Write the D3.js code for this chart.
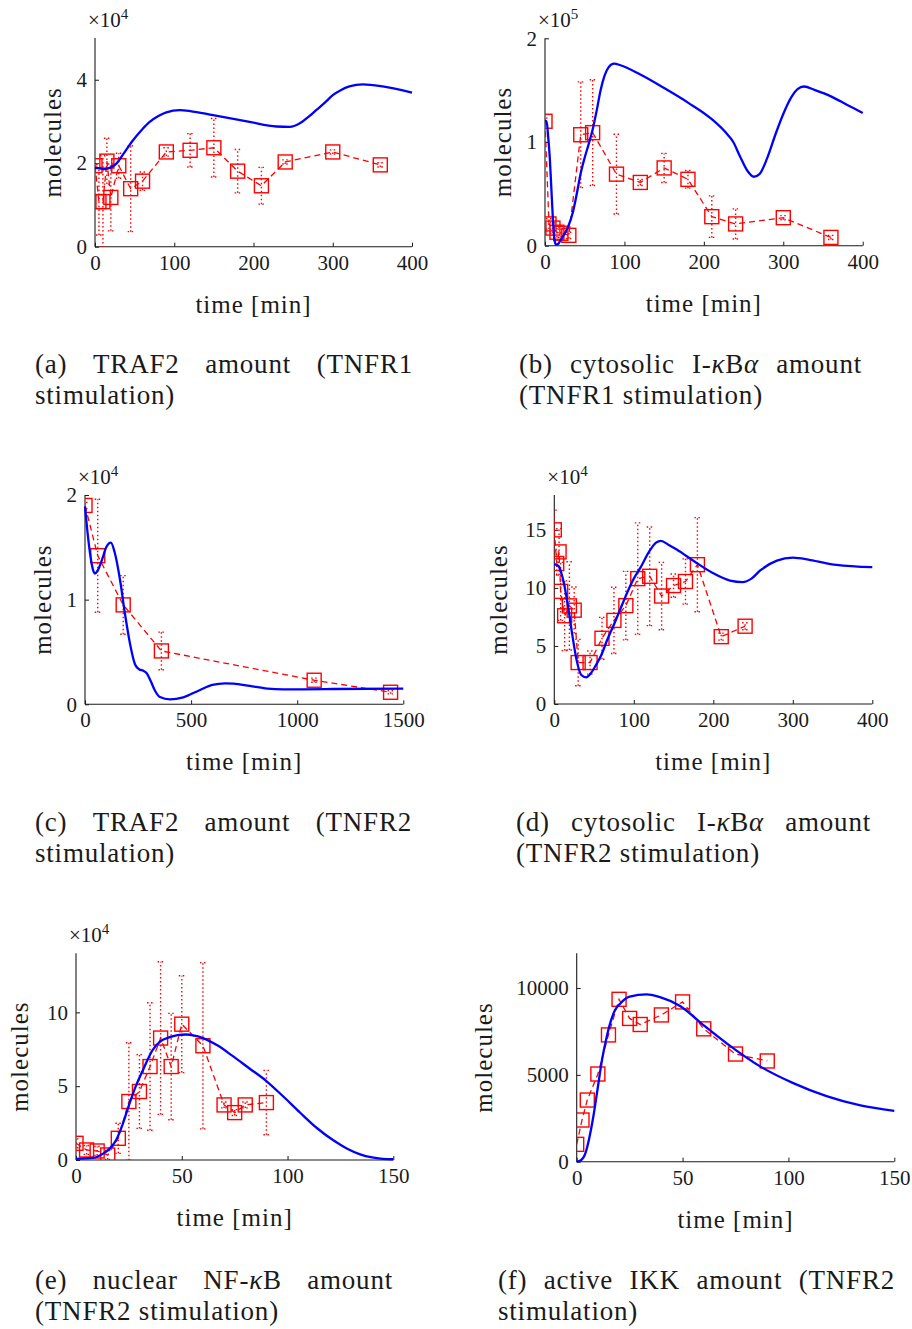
<!DOCTYPE html>
<html><head><meta charset="utf-8">
<script src="https://cdn.jsdelivr.net/npm/d3@7"></script>
<style>
body{margin:0;background:#fff}
svg{display:block}
text{font-family:"Liberation Serif","Times New Roman",serif;fill:#1a1a1a}
</style></head><body>
<svg id="fig" width="912" height="1329"></svg>
<script>
// ---------- (a) TRAF2, TNFR1 stimulation ----------
const trafR1Time = [0,5,10,15,20,30,45,60,90,120,150,180,210,240,300,360];
const trafR1Mean = [19400,10800,10800,20500,11800,19400,13900,15700,22700,23100,23700,18100,14600,20300,22700,19600];
const trafR1Sd   = [300,8000,11000,5500,8000,3000,10300,2200,1000,4000,7000,5200,4400,500,500,500];
const trafR1SimT = [0,5,12,20,27,35,48,60,69,80,90,107,120,149,195,229,246,258,270,279,290,300,310,321,338,363,400];
const trafR1SimV = [18900,18800,18600,19000,19900,22000,25500,28200,29900,31300,32200,32700,32500,31500,29900,28800,28700,29500,31200,32700,34500,36300,37500,38400,38900,38400,36900];

// ---------- (b) cytosolic IkBa, TNFR1 stimulation ----------
const ikbR1Time = [0,5,10,15,20,30,45,60,90,120,150,180,210,240,300,360];
const ikbR1Mean = [120000,21000,17000,13000,12000,10000,107000,109000,69000,61000,75000,64000,28000,21000,27000,8000];
const ikbR1Sd   = [3000,5000,5000,5000,4000,3000,51000,51000,38500,3000,14000,8500,20000,14500,2000,2000];
const ikbR1SimT = [0,2,4,6,8,10,12,14,17,20,25,30,35,40,45,50,55,60,65,70,75,80,87,95,120,150,180,210,230,237,245,255,263,270,280,290,300,310,318,326,340,360,380,400];
const ikbR1SimV = [120000,120000,105000,85000,55000,25000,5000,1000,2000,6000,12000,20000,32000,50000,70000,85000,98000,112000,130000,150000,164000,172000,175500,174000,165000,152000,138000,122000,107000,100000,87000,72000,66500,69000,85000,107000,127000,143000,151000,153500,150000,144000,136000,128000];

// ---------- (c) TRAF2, TNFR2 stimulation ----------
const trafR2Time = [0,60,180,360,1080,1440];
const trafR2Mean = [19000,14200,9500,5100,2300,1150];
const trafR2Sd   = [300,5400,2800,1800,200,150];
const trafR2SimT = [0,10,20,30,40,47,60,80,100,122,140,165,188,212,236,255,275,290,310,330,353,400,463,542,600,660,700,777,860,934,1000,1170,1500];
const trafR2SimV = [18900,16800,15000,13600,12700,12500,12800,13800,15000,15450,14500,11900,8700,5800,3800,3350,3200,3000,2200,1300,700,480,670,1370,1850,2000,1980,1750,1500,1430,1430,1460,1500];

// ---------- (d) cytosolic IkBa, TNFR2 stimulation ----------
const ikbR2Time = [0,3,6,8,13,19,25,30,45,60,75,90,105,120,135,150,165,180,210,240];
const ikbR2Mean = [150000,121000,131000,97000,76000,84500,80800,35700,35700,56600,72000,84700,108000,110000,93000,102000,105500,120000,58000,67000];
const ikbR2Sd   = [17000,10000,20000,25000,30000,38000,20000,20000,10000,18000,28500,29500,48000,42500,29000,10000,19500,40500,3000,3000];
const ikbR2SimT = [0,5,10,13,18,23,28,34,40,46,52,59,67,76,85,93,100,108,120,128,134,144,154,175,200,221,237,248,259,280,300,322,355,400];
const ikbR2SimV = [120500,119000,110000,101000,81000,58000,38000,25000,23000,26500,33000,42000,56000,70000,85000,98000,108000,117000,132000,139000,140500,137000,133000,123300,112600,106300,105000,108000,115000,123500,126000,124000,119800,117800];

// ---------- (e) nuclear NF-kB, TNFR2 stimulation ----------
const nfkbTime = [0,5,10,15,20,25,30,35,40,45,50,60,70,75,80,90];
const nfkbMean = [11300,6800,6100,3400,14700,39600,46400,63300,82600,63300,92000,77400,37300,32100,37300,38900];
const nfkbSd   = [3000,3000,3000,3000,10200,39800,25000,43200,51700,36000,32800,56300,2000,2000,2000,21800];
const nfkbSimT = [0,8,13,16,19,22,25,28,32,36,40,44,48,52,56,60,67,74,82,90,98,106,114,122,128,134,140,145,150];
const nfkbSimV = [700,1400,4500,7900,13600,24000,37000,49000,62000,74000,80500,83000,84500,85000,84200,82600,77500,70500,62000,53500,43000,32000,21500,13000,7800,4000,1700,800,500];

// ---------- (f) active IKK, TNFR2 stimulation ----------
const ikkTime = [0,2.5,5,10,15,20,25,30,40,50,60,75,90];
const ikkMean = [1000,2400,3550,5050,7300,9350,8250,7900,8450,9200,7650,6200,5800];
const ikkSimT = [0,2,4,6,8,10,12,14,16,18,20.5,25,33,39,49,60,71,87,102,118,134,150];
const ikkSimV = [0,80,450,1400,2700,4300,5900,7100,8050,8700,9100,9500,9640,9490,8950,7850,6800,5460,4540,3774,3237,2931];

// ---------- axis ticks ----------
const ticks400 = [0,100,200,300,400];
const ticks1500 = [0,500,1000,1500];
const ticks150 = [0,50,100,150];

const panels = [
  {t:trafR1Time, m:trafR1Mean, sd:trafR1Sd, st:trafR1SimT, sv:trafR1SimV,
   xMax:400, xTicks:ticks400, yMax:50000, yTicks:[0,20000,40000], exp:4,
   box:[95,412,38,246.7], yLabX:61,
   cap:["(a) TRAF2 amount (TNFR1","stimulation)"], capX:[35,413], capY:373},
  {t:ikbR1Time, m:ikbR1Mean, sd:ikbR1Sd, st:ikbR1SimT, sv:ikbR1SimV,
   xMax:400, xTicks:ticks400, yMax:200000, yTicks:[0,100000,200000], exp:5,
   box:[545,862.7,38.3,245.7], yLabX:511,
   cap:["(b) cytosolic I-κBα amount","(TNFR1 stimulation)"], capX:[519,862], capY:373},
  {t:trafR2Time, m:trafR2Mean, sd:trafR2Sd, st:trafR2SimT, sv:trafR2SimV,
   xMax:1500, xTicks:ticks1500, yMax:20000, yTicks:[0,10000,20000], exp:4,
   box:[85,403.3,495,704.3], yLabX:51,
   cap:["(c) TRAF2 amount (TNFR2","stimulation)"], capX:[35,412], capY:831},
  {t:ikbR2Time, m:ikbR2Mean, sd:ikbR2Sd, st:ikbR2SimT, sv:ikbR2SimV,
   xMax:400, xTicks:ticks400, yMax:180000, yTicks:[0,50000,100000,150000], exp:4,
   box:[554.3,872.3,495,704], yLabX:507,
   cap:["(d) cytosolic I-κBα amount","(TNFR2 stimulation)"], capX:[516,871], capY:831},
  {t:nfkbTime, m:nfkbMean, sd:nfkbSd, st:nfkbSimT, sv:nfkbSimV,
   xMax:150, xTicks:ticks150, yMax:140000, yTicks:[0,50000,100000], exp:4,
   box:[76,393.3,953.3,1160], yLabX:28,
   cap:["(e) nuclear NF-κB amount","(TNFR2 stimulation)"], capX:[35,393], capY:1289},
  {t:ikkTime, m:ikkMean, sd:null, st:ikkSimT, sv:ikkSimV,
   xMax:150, xTicks:ticks150, yMax:12000, yTicks:[0,5000,10000], exp:0,
   box:[576.7,894.3,953.3,1161.7], yLabX:492,
   cap:["(f) active IKK amount (TNFR2","stimulation)"], capX:[498,895], capY:1289}
];

const svg = d3.select("#fig");
const RED = "#ff0000", BLUE = "#0000ff", AX = "#1a1a1a";

// text with Greek letters set in italic
function rich(sel, str) {
  str.split(/([κα]+)/).filter(s => s.length).forEach(s => {
    const ts = sel.append("tspan").text(s);
    if (/[κα]/.test(s)) ts.attr("font-style", "italic");
  });
  return sel;
}

panels.forEach((p, i) => {
  const [x0, x1, yT, yB] = p.box;
  const g = svg.append("g");
  const x = d3.scaleLinear().domain([0, p.xMax]).range([x0, x1]);
  const y = d3.scaleLinear().domain([0, p.yMax]).range([yB, yT]);
  const f = Math.pow(10, p.exp);

  const clipId = "clip" + i;
  svg.append("clipPath").attr("id", clipId).append("rect")
    .attr("x", x0).attr("y", yT - 1).attr("width", x1 - x0 + 8).attr("height", yB - yT + 1);

  // axes
  const xAxis = d3.axisBottom(x).tickValues(p.xTicks).tickSizeInner(-4).tickSizeOuter(0).tickPadding(8)
    .tickFormat(d3.format("d"));
  const yAxis = d3.axisLeft(y).tickValues(p.yTicks).tickSizeInner(-4).tickSizeOuter(0).tickPadding(8)
    .tickFormat(d => d3.format("d")(d / f));
  const gx = g.append("g").attr("transform", `translate(0,${yB})`).call(xAxis);
  const gy = g.append("g").attr("transform", `translate(${x0},0)`).call(yAxis);
  [gx, gy].forEach(a => {
    a.select(".domain").attr("stroke", AX).attr("stroke-width", 1.1);
    a.selectAll(".tick line").attr("stroke", AX);
    a.selectAll(".tick text").attr("font-size", 21).attr("fill", AX)
      .attr("font-family", '"Liberation Serif",serif');
  });
  gy.select(".domain").attr("d", `M0,${yB}V${yT}`);
  gx.select(".domain").attr("d", `M${x0},0H${x1}`);

  // exponent label
  if (p.exp > 0) {
    const tx = g.append("text").attr("x", x0 - 7).attr("y", yT - 11).attr("font-size", 21);
    tx.append("tspan").text("×10");
    tx.append("tspan").attr("font-size", 15).attr("dy", -8).text(p.exp);
  }

  // axis titles
  g.append("text").attr("x", (x0 + x1) / 2).attr("y", yB + 66)
    .attr("text-anchor", "middle").attr("font-size", 25).attr("letter-spacing", 1).text("time [min]");
  g.append("text").attr("transform", `translate(${p.yLabX},${(yT + yB) / 2}) rotate(-90)`)
    .attr("text-anchor", "middle").attr("font-size", 25).attr("letter-spacing", 1).text("molecules");

  // measured data
  const pts = p.t.map((t, k) => ({t, m: p.m[k], s: p.sd ? p.sd[k] : 0}));
  const dg = g.append("g").attr("clip-path", `url(#${clipId})`);
  if (p.sd) {
    const eb = dg.selectAll("g.eb").data(pts).join("g")
      .attr("stroke", RED).attr("stroke-width", 1.4).attr("stroke-dasharray", "1.5,2.5").attr("fill", "none");
    eb.append("line").attr("x1", d => x(d.t)).attr("x2", d => x(d.t))
      .attr("y1", d => y(d.m - d.s)).attr("y2", d => y(d.m + d.s));
    eb.append("line").attr("x1", d => x(d.t) - 3).attr("x2", d => x(d.t) + 3)
      .attr("y1", d => y(d.m + d.s)).attr("y2", d => y(d.m + d.s));
    eb.append("line").attr("x1", d => x(d.t) - 3).attr("x2", d => x(d.t) + 3)
      .attr("y1", d => y(d.m - d.s)).attr("y2", d => y(d.m - d.s));
  }
  dg.append("path").datum(pts)
    .attr("d", d3.line().x(d => x(d.t)).y(d => y(d.m)))
    .attr("fill", "none").attr("stroke", RED).attr("stroke-width", 1.3).attr("stroke-dasharray", "6,4");
  const S = 14;
  dg.selectAll("rect.mk").data(pts).join("rect")
    .attr("x", d => x(d.t) - S / 2).attr("y", d => y(d.m) - S / 2)
    .attr("width", S).attr("height", S)
    .attr("fill", "none").attr("stroke", RED).attr("stroke-width", 1.4);

  // simulated trajectory
  const sim = p.st.map((t, k) => [t, p.sv[k]]);
  g.append("path").datum(sim)
    .attr("d", d3.line().x(d => x(d[0])).y(d => y(d[1])).curve(d3.curveMonotoneX))
    .attr("fill", "none").attr("stroke", BLUE).attr("stroke-width", 2.3);

  // caption: first line justified, second line left-aligned
  const cg = svg.append("g").attr("font-size", 27).attr("letter-spacing", 0.8);
  const [cx0, cx1] = p.capX;
  const words = p.cap[0].split(" ");
  const nodes = words.map(w => rich(cg.append("text").attr("y", p.capY), w));
  const widths = nodes.map(n => n.node().getComputedTextLength());
  const gap = (cx1 - cx0 - d3.sum(widths)) / (words.length - 1);
  let cx = cx0;
  nodes.forEach((n, k) => { n.attr("x", cx); cx += widths[k] + gap; });
  rich(cg.append("text").attr("x", cx0).attr("y", p.capY + 31), p.cap[1]);
});
</script>
</body></html>
